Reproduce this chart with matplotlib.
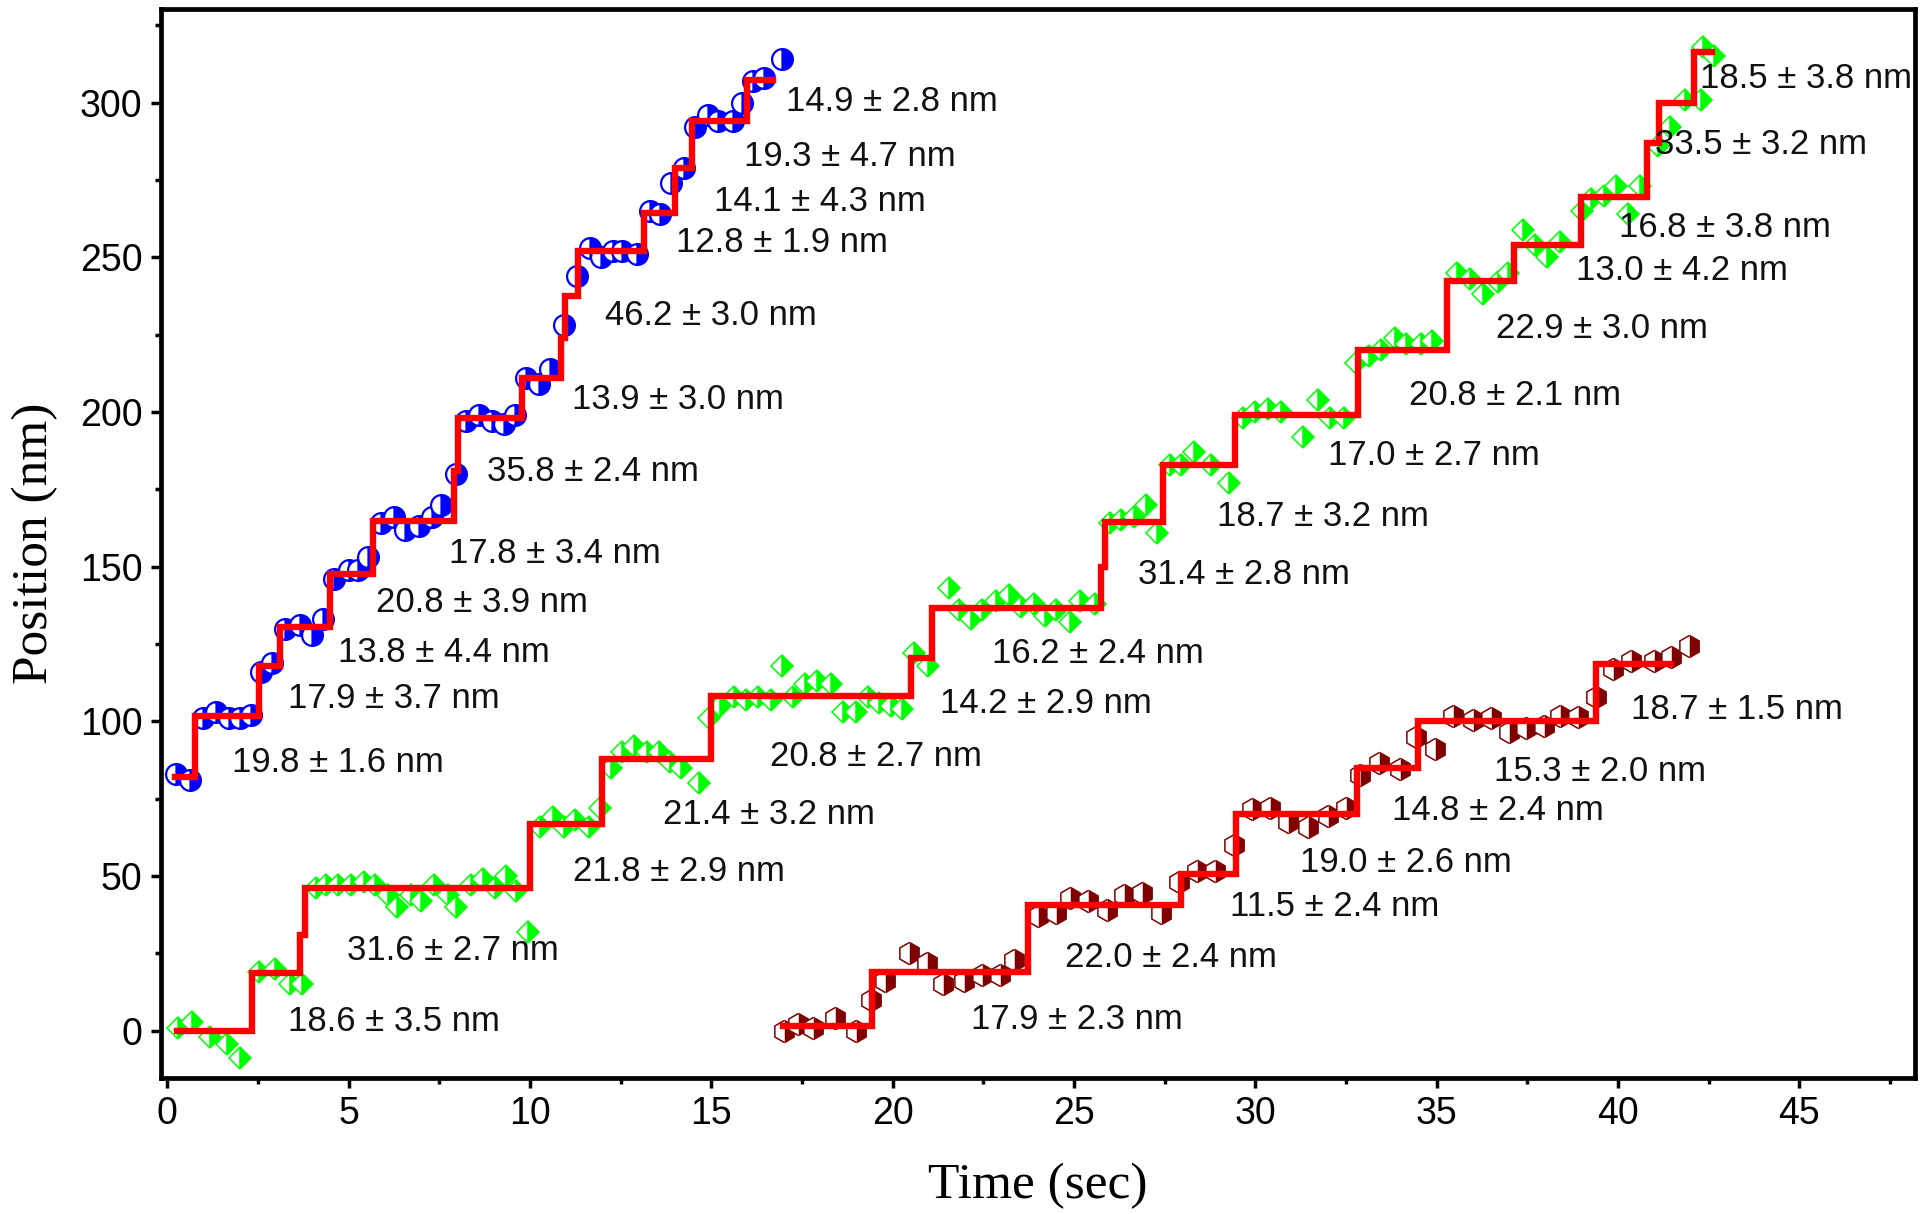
import matplotlib
matplotlib.use("Agg")
import matplotlib.pyplot as plt
from matplotlib.ticker import MultipleLocator

# === Données ===
# trace bleue (cercles)
blue_t = [0.25, 0.63, 1.0, 1.35, 1.7, 2.0, 2.3, 2.6, 2.9, 3.25, 3.65, 4.0, 4.3,
          4.6, 5.0, 5.25, 5.55, 5.9, 6.25, 6.55, 6.95, 7.3, 7.55, 7.95, 8.25,
          8.6, 8.95, 9.3, 9.6, 9.9, 10.25, 10.55, 10.95, 11.3, 11.65, 11.95,
          12.3, 12.55, 12.95, 13.3, 13.6, 13.9, 14.25, 14.55, 14.9, 15.2,
          15.6, 15.85, 16.15, 16.45, 16.95]
blue_y = [83, 81, 101, 103, 101, 101, 102, 116, 119, 130, 131, 128, 133,
          146, 149, 149, 153, 164, 166, 162, 163, 166, 170, 180, 197,
          199, 197, 196, 199, 211, 209, 214, 228, 244, 253, 250,
          252, 252, 251, 265, 264, 274, 279, 292, 296, 294,
          294, 300, 307, 308, 314]
blue_edges = [0.23, 0.78, 2.52, 3.12, 4.49, 5.67, 7.9, 8.01, 9.78, 10.87,
              10.97, 11.33, 13.15, 14.0, 14.47, 16.0, 16.7]
blue_levels = [82, 101.6, 118, 130.5, 147.5, 164.7, 181, 198, 211, 224,
               237.5, 252, 264.5, 279, 294, 307.5]
blue_labels = ["14.9 ± 2.8 nm", "19.3 ± 4.7 nm", "14.1 ± 4.3 nm", "12.8 ± 1.9 nm",
               "46.2 ± 3.0 nm", "13.9 ± 3.0 nm", "35.8 ± 2.4 nm", "17.8 ± 3.4 nm",
               "20.8 ± 3.9 nm", "13.8 ± 4.4 nm", "17.9 ± 3.7 nm", "19.8 ± 1.6 nm"]
blue_lab_t = [17.05, 15.9, 15.08, 14.03, 12.07, 11.15, 8.81, 7.76, 5.76, 4.71, 3.32, 1.8]
blue_lab_y = [300.4, 282.5, 268.2, 254.7, 231.2, 204.2, 180.8, 154.1, 138.3, 122.4, 107.3, 86.6]

# trace verte (losanges)
green_t = [0.3, 0.68, 1.19, 1.66, 2.0, 2.54, 2.98, 3.39, 3.73, 4.1, 4.37, 4.71,
           5.08, 5.42, 5.73, 6.1, 6.34, 6.71, 7.01, 7.35, 7.73, 7.96, 8.37, 8.7,
           9.05, 9.35, 9.62, 9.96, 10.27, 10.64, 10.95, 11.25, 11.62, 11.93,
           12.23, 12.54, 12.88, 13.22, 13.55, 13.86, 14.16, 14.67, 14.94, 15.25,
           15.62, 15.96, 16.3, 16.64, 16.94, 17.25, 17.59, 17.93, 18.3, 18.64,
           18.98, 19.32, 19.62, 19.96, 20.26, 20.6, 20.98, 21.55, 21.82, 22.16,
           22.47, 22.84, 23.21, 23.55, 23.89, 24.2, 24.5, 24.9, 25.18, 25.58,
           25.99, 26.3, 26.67, 27.0, 27.28, 27.65, 27.96, 28.3, 28.77, 29.28,
           29.65, 29.99, 30.36, 30.7, 31.31, 31.72, 32.06, 32.46, 32.77, 33.14,
           33.48, 33.85, 34.16, 34.56, 34.87, 35.55, 35.92, 36.29, 36.7, 36.97,
           37.38, 37.72, 38.05, 38.39, 39.0, 39.27, 39.61, 39.95, 40.29, 40.6,
           41.1, 41.44, 41.85, 42.29, 42.35, 42.65]
green_y = [0.8, 2.8, -2, -4.4, -8.7, 19, 20, 15, 15, 46, 47, 47,
           47, 48, 47, 44, 40, 44, 42, 47, 44, 40, 47, 49,
           46, 50, 45, 32, 66, 69, 66, 68, 66, 72,
           85, 90, 92, 90, 90, 87, 85, 80, 101, 105,
           108, 107, 108, 107, 118, 108, 112, 113, 112, 103,
           103, 108, 106, 105, 104, 122, 118, 143, 136, 133,
           136, 139, 141, 137, 138, 134, 136, 132, 139, 138,
           164, 165, 166, 170, 161, 183, 183, 187, 183, 177,
           198, 200, 201, 200, 192, 204, 198, 198, 216, 218,
           220, 224, 222, 222, 223, 245, 243, 238, 242, 245,
           259, 254, 250, 255, 265, 269, 270, 273, 264, 273,
           286, 292, 301, 301, 318, 315]
green_edges = [0.28, 2.33, 3.66, 3.8, 10.0, 12.0, 15.0, 20.5, 21.1, 25.75,
               25.85, 27.45, 29.45, 32.84, 35.3, 37.14, 38.98, 40.8, 41.12,
               42.1, 42.6]
green_levels = [0, 18.7, 31, 46, 66.7, 87.8, 108.3, 120.5, 136.7, 150,
                164.5, 182.8, 199, 220, 242.2, 254, 269.5, 287, 300, 316.3]
green_labels = ["18.6 ± 3.5 nm", "31.6 ± 2.7 nm", "21.8 ± 2.9 nm", "21.4 ± 3.2 nm",
                "20.8 ± 2.7 nm", "14.2 ± 2.9 nm", "16.2 ± 2.4 nm", "31.4 ± 2.8 nm",
                "18.7 ± 3.2 nm", "17.0 ± 2.7 nm", "20.8 ± 2.1 nm", "22.9 ± 3.0 nm",
                "13.0 ± 4.2 nm", "16.8 ± 3.8 nm", "33.5 ± 3.2 nm", "18.5 ± 3.8 nm"]
green_lab_t = [3.32, 4.95, 11.19, 13.66, 16.61, 21.32, 22.75, 26.78,
               28.95, 32.0, 34.24, 36.64, 38.85, 40.03, 41.02, 42.27]
green_lab_y = [2.8, 25.8, 51.3, 69.9, 88.6, 105.7, 122, 147.4,
               166.1, 185.9, 205.4, 226.9, 245.9, 259.8, 286.5, 307.9]

# trace rouge foncé (hexagones)
dred_t = [17.0, 17.4, 17.8, 18.4, 18.98, 19.4, 19.8, 20.44, 20.95, 21.4, 21.97,
          22.47, 22.95, 23.36, 24.0, 24.5, 24.9, 25.4, 25.9, 26.37, 26.88,
          27.39, 27.9, 28.4, 28.9, 29.4, 29.9, 30.4, 30.9, 31.45, 32.0, 32.5,
          32.9, 33.4, 34.0, 34.44, 34.95, 35.46, 36.0, 36.5, 37.0, 37.46,
          37.97, 38.4, 38.9, 39.4, 39.86, 40.37, 40.98, 41.46, 41.97]
dred_y = [0, 2, 1, 4, 0, 10, 16, 25, 22, 15, 16,
          18, 18, 23, 37, 38, 43, 42, 39, 44, 44.5,
          38, 48, 51.6, 51.6, 60, 71.5, 72, 67.5, 66, 69.5, 72,
          82.6, 86.6, 84.6, 95, 91, 101.7, 100.5, 101, 96.5, 97.7,
          98.5, 101.7, 101.3, 108, 117, 119.6, 119.6, 120.8, 124.4]
dred_edges = [16.97, 19.44, 23.73, 27.95, 29.48, 32.8, 34.5, 39.4, 41.46]
dred_levels = [1.5, 19, 40.5, 50.5, 70, 85, 100, 118.5]
dred_labels = ["17.9 ± 2.3 nm", "22.0 ± 2.4 nm", "11.5 ± 2.4 nm", "19.0 ± 2.6 nm",
               "14.8 ± 2.4 nm", "15.3 ± 2.0 nm", "18.7 ± 1.5 nm"]
dred_lab_t = [22.17, 24.75, 29.29, 31.22, 33.76, 36.58, 40.37]
dred_lab_y = [3.6, 23.8, 40.1, 54.4, 71.1, 83.8, 103.7]

# === Figure ===
plt.rcParams["font.family"] = ["Liberation Sans", "DejaVu Sans"]
fig = plt.figure(figsize=(19.26, 12.14), dpi=100)
ax = fig.add_axes([0.0834, 0.1123, 0.9109, 0.8803])

ax.plot(blue_t, blue_y, linestyle="none", marker="o", ms=15, mew=1.6,
        color="#0000ff", mfc="#0000ff", mec="#0000ff", fillstyle="right",
        markerfacecoloralt="white")
ax.plot(green_t, green_y, linestyle="none", marker="D", ms=11.5, mew=1.1,
        color="#00ff00", mfc="#00ff00", mec="#00ff00", fillstyle="right",
        markerfacecoloralt="white")
ax.plot(dred_t, dred_y, linestyle="none", marker="h", ms=16, mew=1.1,
        color="#800000", mfc="#800000", mec="#800000", fillstyle="right",
        markerfacecoloralt="white")

# marches (ajustement)
for edges, levels in [(blue_edges, blue_levels), (green_edges, green_levels),
                      (dred_edges, dred_levels)]:
    ax.step(edges, levels + [levels[-1]], where="post", color="red", lw=4.6,
            solid_joinstyle="miter")

for labs, ts, ys in [(blue_labels, blue_lab_t, blue_lab_y),
                     (green_labels, green_lab_t, green_lab_y),
                     (dred_labels, dred_lab_t, dred_lab_y)]:
    for s, t, y in zip(labs, ts, ys):
        ax.text(t, y, s, fontsize=25, ha="left", va="center", color="#111111")

ax.set_xlim(-0.18, 48.19)
ax.set_ylim(-15.2, 330.3)
ax.xaxis.set_major_locator(MultipleLocator(5))
ax.xaxis.set_minor_locator(MultipleLocator(2.5))
ax.yaxis.set_major_locator(MultipleLocator(50))
ax.yaxis.set_minor_locator(MultipleLocator(25))
ax.tick_params(which="major", direction="out", length=7, width=2.5, labelsize=27, pad=6)
ax.tick_params(which="minor", direction="out", length=4.5, width=2.5)
for sp in ax.spines.values():
    sp.set_linewidth(3.4)

ax.set_xlabel("Time (sec)", family=["Liberation Serif", "DejaVu Serif"], fontsize=37, labelpad=22)
ax.set_ylabel("Position (nm)", family=["Liberation Serif", "DejaVu Serif"], fontsize=37, labelpad=16)

plt.savefig("out.png", dpi=100, facecolor="white")
